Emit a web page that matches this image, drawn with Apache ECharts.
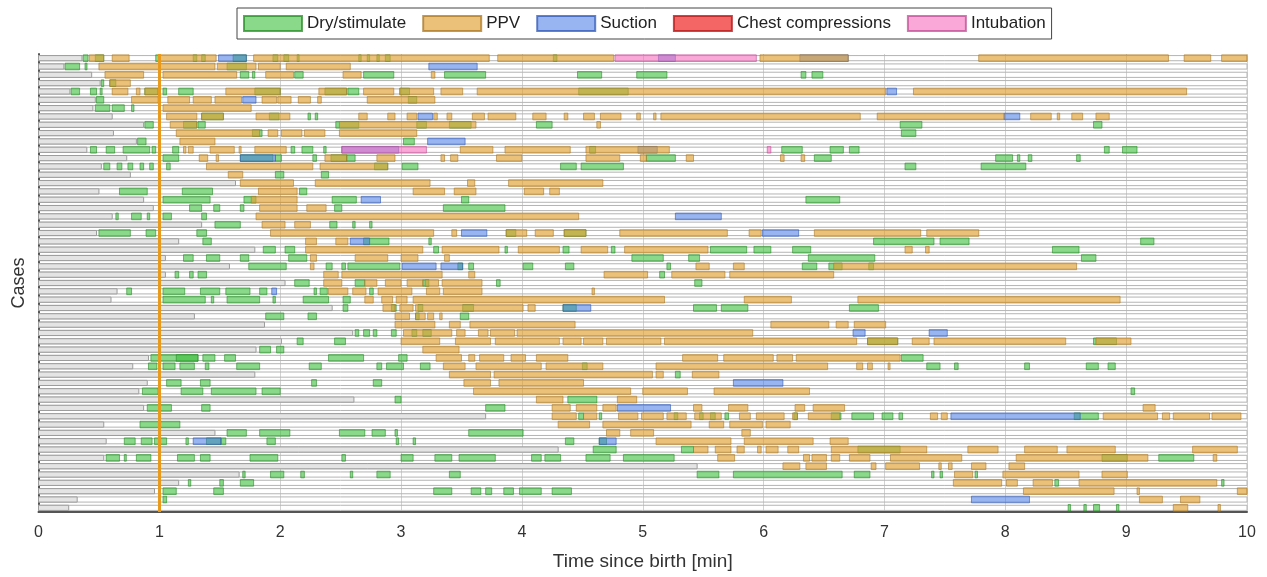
<!DOCTYPE html>
<html>
<head>
<meta charset="utf-8">
<script src="https://cdn.jsdelivr.net/npm/echarts@6/dist/echarts.min.js"></script>
<style>
  html, body { margin: 0; padding: 0; background: #fff; }
  #chart { width: 1267px; height: 577px; }
</style>
</head>
<body>
<div id="chart"></div>
<script>
// Une ligne par cas, de haut en bas
const caseIds = Array.from({ length: 55 }, (_, i) => 'Case ' + (i + 1));

const timeTicks = [0, 1, 2, 3, 4, 5, 6, 7, 8, 9, 10];

const categories = ['Dry/stimulate', 'PPV', 'Suction', 'Chest compressions', 'Intubation'];

// Partie grise de chaque ligne (minutes)
const greyUntil = [
  0.36, 0.21, 0.44, 0.51, 0.26, 0.47, 0.45, 0.61, 0.87, 0.62,
  0.81, 0.40, 0.73, 0.52, 0.76, 1.63, 0.50, 0.87, 0.95, 0.61,
  1.35, 0.48, 1.16, 1.79, 1.05, 1.58, 1.05, 2.04, 0.65, 0.60,
  2.43, 1.29, 1.87, 2.60, 2.01, 1.80, 0.91, 0.78, 1.79, 0.90,
  0.83, 2.61, 0.87, 3.70, 0.54, 1.46, 0.56, 4.30, 0.54, 5.45,
  1.66, 1.16, 0.96, 0.32, 0.25
];

// [ligne, début, fin] en minutes
const dryStimulate = [
  [0, 0.37, 0.41], [0, 0.47, 0.54], [0, 0.97, 1.00], [0, 1.28, 1.31], [0, 1.35, 1.38], [0, 1.61, 1.72],
  [0, 1.94, 1.98], [0, 2.03, 2.07], [0, 2.14, 2.15], [0, 2.65, 2.67], [0, 2.72, 2.74], [0, 2.80, 2.82],
  [0, 2.87, 2.91], [0, 4.26, 4.29],
  [1, 0.22, 0.34], [1, 0.385, 0.40], [1, 1.56, 1.72],
  [2, 1.67, 1.74], [2, 1.77, 1.79], [2, 2.12, 2.19], [2, 2.69, 2.94], [2, 3.36, 3.70], [2, 4.46, 4.66],
  [2, 4.95, 5.20], [2, 6.31, 6.35], [2, 6.40, 6.49],
  [3, 0.52, 0.54], [3, 0.59, 0.64],
  [4, 0.27, 0.34], [4, 0.43, 0.48], [4, 0.51, 0.52], [4, 0.88, 0.99], [4, 1.03, 1.06], [4, 1.16, 1.28],
  [4, 1.79, 2.00], [4, 2.37, 2.55], [4, 2.56, 2.65], [4, 2.99, 3.07], [4, 4.47, 4.88],
  [5, 0.48, 0.54], [5, 3.06, 3.13],
  [6, 0.47, 0.59], [6, 0.61, 0.71], [6, 0.77, 0.79],
  [7, 1.35, 1.53], [7, 1.91, 1.99], [7, 2.23, 2.25], [7, 2.29, 2.31],
  [8, 0.88, 0.95], [8, 1.20, 1.31], [8, 1.32, 1.38], [8, 2.46, 2.65], [8, 3.13, 3.21], [8, 3.40, 3.58],
  [8, 4.12, 4.25], [8, 7.13, 7.31], [8, 8.73, 8.80],
  [9, 1.77, 1.85], [9, 7.14, 7.26],
  [10, 0.82, 0.89], [10, 3.02, 3.11],
  [11, 0.43, 0.48], [11, 0.56, 0.63], [11, 0.70, 0.92], [11, 0.94, 0.97], [11, 1.11, 1.16], [11, 2.09, 2.12],
  [11, 2.18, 2.27], [11, 2.36, 2.38], [11, 4.56, 4.61], [11, 6.15, 6.32], [11, 6.55, 6.66], [11, 6.71, 6.79],
  [11, 8.82, 8.86], [11, 8.97, 9.09],
  [12, 1.03, 1.16], [12, 1.67, 1.94], [12, 1.96, 2.01], [12, 2.27, 2.30], [12, 2.42, 2.55], [12, 2.55, 2.62],
  [12, 5.03, 5.27], [12, 6.42, 6.56], [12, 7.92, 8.06], [12, 8.10, 8.12], [12, 8.19, 8.22], [12, 8.59, 8.62],
  [13, 0.54, 0.59], [13, 0.65, 0.69], [13, 0.74, 0.78], [13, 0.84, 0.87], [13, 0.92, 0.95], [13, 1.06, 1.09],
  [13, 2.78, 2.89], [13, 3.01, 3.14], [13, 4.32, 4.45], [13, 4.49, 4.84], [13, 7.17, 7.26], [13, 7.80, 8.17],
  [14, 1.96, 2.03], [14, 2.34, 2.40],
  [16, 0.67, 0.90], [16, 1.19, 1.44], [16, 2.16, 2.22],
  [17, 1.03, 1.42], [17, 1.70, 1.80], [17, 2.43, 2.63], [17, 3.50, 3.56], [17, 6.35, 6.63],
  [18, 1.25, 1.35], [18, 1.45, 1.50], [18, 1.67, 1.70], [18, 2.45, 2.51], [18, 3.35, 3.86],
  [19, 0.64, 0.66], [19, 0.77, 0.85], [19, 0.90, 0.92], [19, 1.03, 1.10], [19, 1.35, 1.39],
  [20, 1.46, 1.67], [20, 2.41, 2.47], [20, 2.60, 2.62], [20, 2.74, 2.76],
  [21, 0.50, 0.76], [21, 0.89, 0.97], [21, 1.31, 1.39], [21, 3.87, 3.95], [21, 4.35, 4.53],
  [22, 1.36, 1.43], [22, 2.69, 2.90], [22, 3.23, 3.25], [22, 6.91, 7.41], [22, 7.46, 7.70], [22, 9.12, 9.23],
  [23, 1.86, 1.96], [23, 2.04, 2.12], [23, 3.27, 3.31], [23, 3.86, 3.88], [23, 4.34, 4.39], [23, 4.74, 4.77],
  [23, 5.56, 5.86], [23, 5.92, 6.06], [23, 6.24, 6.39], [23, 8.39, 8.61],
  [24, 1.20, 1.28], [24, 1.39, 1.50], [24, 1.67, 1.74], [24, 2.07, 2.22], [24, 4.91, 5.17], [24, 5.38, 5.47],
  [24, 6.37, 6.92], [24, 8.63, 8.75],
  [25, 1.74, 2.05], [25, 2.38, 2.43], [25, 2.51, 2.54], [25, 2.56, 2.99], [25, 3.47, 3.51], [25, 3.56, 3.60],
  [25, 4.01, 4.09], [25, 4.36, 4.43], [25, 5.20, 5.23], [25, 6.32, 6.44], [25, 6.54, 6.65], [25, 6.87, 6.91],
  [26, 1.13, 1.16], [26, 1.25, 1.28], [26, 1.32, 1.39], [26, 5.14, 5.18],
  [27, 2.12, 2.24], [27, 2.62, 2.70], [27, 3.18, 3.23], [27, 3.79, 3.82], [27, 5.43, 5.49],
  [28, 0.73, 0.77], [28, 1.03, 1.21], [28, 1.34, 1.50], [28, 1.55, 1.75], [28, 1.83, 1.89], [28, 2.28, 2.30],
  [28, 2.33, 2.39], [28, 2.74, 2.77],
  [29, 1.03, 1.38], [29, 1.43, 1.45], [29, 1.56, 1.83], [29, 1.94, 1.96], [29, 2.19, 2.40], [29, 2.52, 2.58],
  [30, 2.52, 2.56], [30, 2.92, 2.96], [30, 3.14, 3.18], [30, 3.51, 3.60], [30, 4.34, 4.45], [30, 5.42, 5.61],
  [30, 5.65, 5.87], [30, 6.71, 6.95],
  [31, 1.88, 2.03], [31, 2.23, 2.30], [31, 3.12, 3.15], [31, 3.49, 3.56],
  [33, 2.62, 2.65], [33, 2.69, 2.74], [33, 2.77, 2.80], [33, 2.92, 2.96], [33, 3.09, 3.13], [33, 3.18, 3.25],
  [34, 2.14, 2.19], [34, 2.45, 2.54], [34, 6.86, 7.11], [34, 8.73, 8.92],
  [35, 1.83, 1.92], [35, 1.97, 2.03],
  [36, 0.93, 1.32], [36, 1.14, 1.32], [36, 1.36, 1.46], [36, 1.54, 1.63], [36, 2.40, 2.69], [36, 2.98, 3.05],
  [36, 7.14, 7.32],
  [37, 0.91, 0.98], [37, 1.03, 1.13], [37, 1.17, 1.29], [37, 1.38, 1.41], [37, 1.64, 1.83], [37, 2.24, 2.34],
  [37, 2.80, 2.84], [37, 2.88, 3.02], [37, 3.16, 3.24], [37, 4.50, 4.54], [37, 7.35, 7.46], [37, 7.58, 7.61],
  [37, 8.16, 8.20], [37, 8.67, 8.77], [37, 8.85, 8.91],
  [38, 5.27, 5.31],
  [39, 1.06, 1.18], [39, 1.34, 1.42], [39, 2.26, 2.30], [39, 2.77, 2.84],
  [40, 0.86, 0.99], [40, 1.18, 1.36], [40, 1.43, 1.80], [40, 1.85, 2.00], [40, 9.04, 9.07],
  [41, 2.95, 3.00], [41, 4.38, 4.62],
  [42, 0.90, 1.10], [42, 1.35, 1.42], [42, 3.70, 3.86],
  [43, 4.47, 4.51], [43, 4.64, 4.66], [43, 5.26, 5.29], [43, 5.47, 5.50], [43, 5.56, 5.60], [43, 5.68, 5.71],
  [43, 6.25, 6.28], [43, 6.56, 6.64], [43, 6.73, 6.91], [43, 6.98, 7.07], [43, 7.12, 7.15], [43, 8.57, 8.77],
  [44, 0.84, 1.17],
  [45, 1.56, 1.72], [45, 1.83, 2.08], [45, 2.49, 2.70], [45, 2.76, 2.87], [45, 2.95, 2.97], [45, 3.56, 4.01],
  [46, 0.71, 0.80], [46, 0.85, 0.94], [46, 0.96, 1.06], [46, 1.22, 1.24], [46, 1.39, 1.51], [46, 1.51, 1.55],
  [46, 1.89, 1.96], [46, 2.96, 2.98], [46, 3.10, 3.12], [46, 4.36, 4.43], [46, 4.64, 4.70],
  [47, 4.59, 4.78], [47, 5.32, 5.42], [47, 6.78, 7.13],
  [48, 0.56, 0.67], [48, 0.71, 0.72], [48, 0.81, 0.93], [48, 1.15, 1.29], [48, 1.34, 1.42], [48, 1.75, 1.98],
  [48, 2.51, 2.54], [48, 3.00, 3.10], [48, 3.28, 3.42], [48, 3.48, 3.78], [48, 4.08, 4.16], [48, 4.19, 4.32],
  [48, 4.53, 4.73], [48, 4.84, 5.26], [48, 8.80, 9.01], [48, 9.27, 9.56],
  [50, 1.69, 1.71], [50, 1.92, 2.03], [50, 2.17, 2.20], [50, 2.58, 2.60], [50, 2.80, 2.91], [50, 3.40, 3.49],
  [50, 5.45, 5.63], [50, 5.75, 6.65], [50, 6.75, 6.88], [50, 7.39, 7.41], [50, 7.46, 7.48], [50, 7.75, 7.77],
  [51, 1.24, 1.26], [51, 1.50, 1.53], [51, 1.67, 1.78], [51, 8.41, 8.44], [51, 9.79, 9.81],
  [52, 1.03, 1.14], [52, 1.45, 1.53], [52, 3.27, 3.42], [52, 3.58, 3.66], [52, 3.70, 3.75], [52, 3.85, 3.93],
  [52, 3.98, 4.16], [52, 4.25, 4.41],
  [53, 1.03, 1.06],
  [54, 8.52, 8.54], [54, 8.65, 8.67], [54, 8.73, 8.78], [54, 8.92, 8.94]
];

const ppv = [
  [0, 0.42, 0.54], [0, 0.61, 0.75], [0, 1.00, 1.47], [0, 1.78, 3.73], [0, 3.80, 4.76], [0, 5.97, 6.70],
  [0, 7.78, 9.35], [0, 9.48, 9.70], [0, 9.79, 10.0],
  [1, 0.50, 1.46], [1, 1.48, 1.80], [1, 1.82, 2.00], [1, 2.05, 2.58],
  [2, 0.55, 0.87], [2, 1.03, 1.64], [2, 1.88, 2.11], [2, 2.52, 2.67], [2, 3.25, 3.28],
  [3, 0.59, 0.76],
  [4, 0.61, 0.74], [4, 0.81, 0.84], [4, 0.88, 0.99], [4, 1.55, 2.00], [4, 2.32, 2.55], [4, 2.69, 2.94],
  [4, 2.99, 3.27], [4, 3.33, 3.51], [4, 3.63, 7.01], [4, 7.24, 9.50],
  [5, 0.77, 0.99], [5, 1.07, 1.25], [5, 1.28, 1.43], [5, 1.46, 1.68], [5, 1.85, 1.97], [5, 1.98, 2.09],
  [5, 2.15, 2.25], [5, 2.31, 2.34], [5, 2.72, 3.28],
  [6, 1.03, 1.76],
  [7, 1.06, 1.31], [7, 1.35, 1.53], [7, 1.80, 2.08], [7, 2.65, 2.72], [7, 2.89, 2.95], [7, 3.05, 3.13],
  [7, 3.27, 3.30], [7, 3.38, 3.42], [7, 3.59, 3.69], [7, 3.72, 3.95], [7, 4.09, 4.20], [7, 4.35, 4.38],
  [7, 4.51, 4.60], [7, 4.65, 4.82], [7, 4.95, 4.98], [7, 5.09, 5.11], [7, 5.15, 6.80], [7, 6.94, 7.99],
  [7, 8.21, 8.38], [7, 8.43, 8.45], [7, 8.55, 8.64], [7, 8.75, 8.86],
  [8, 1.09, 1.31], [8, 2.49, 3.62], [8, 4.62, 4.65],
  [9, 1.14, 1.83], [9, 1.90, 1.98], [9, 2.01, 2.18], [9, 2.20, 2.37], [9, 2.49, 3.13],
  [10, 1.17, 1.46],
  [11, 1.20, 1.22], [11, 1.24, 1.28], [11, 1.42, 1.62], [11, 1.66, 1.67], [11, 1.79, 2.05], [11, 3.49, 3.76],
  [11, 3.86, 4.40], [11, 4.53, 5.22],
  [12, 1.33, 1.40], [12, 1.47, 1.49], [12, 2.37, 2.55], [12, 2.80, 2.95], [12, 3.33, 3.36], [12, 3.41, 3.47],
  [12, 3.79, 4.00], [12, 4.53, 4.81], [12, 4.98, 5.03], [12, 5.36, 5.42], [12, 6.14, 6.17], [12, 6.31, 6.34],
  [13, 1.39, 2.27], [13, 2.33, 2.89],
  [14, 1.57, 1.69],
  [15, 1.67, 2.11], [15, 2.29, 3.24], [15, 3.55, 3.61], [15, 3.89, 4.67],
  [16, 1.82, 2.14], [16, 3.10, 3.36], [16, 3.44, 3.62], [16, 4.02, 4.18], [16, 4.23, 4.31],
  [17, 1.76, 2.14],
  [18, 1.83, 2.14], [18, 2.22, 2.38],
  [19, 1.80, 4.47],
  [20, 1.85, 2.04], [20, 2.12, 2.25],
  [21, 1.92, 3.27], [21, 3.42, 3.46], [21, 3.87, 4.04], [21, 4.11, 4.26], [21, 4.35, 4.53], [21, 4.81, 5.70],
  [21, 5.88, 5.98], [21, 6.42, 7.30], [21, 7.35, 7.78],
  [22, 2.21, 2.30], [22, 2.46, 2.56],
  [23, 2.21, 3.18], [23, 3.34, 3.81], [23, 3.97, 4.31], [23, 4.49, 4.71], [23, 4.85, 5.54], [23, 7.17, 7.23],
  [23, 7.34, 7.37],
  [24, 2.25, 2.30], [24, 2.62, 2.89], [24, 3.00, 3.14], [24, 3.36, 3.40],
  [25, 2.25, 2.28], [25, 5.44, 5.55], [25, 5.75, 5.84], [25, 6.58, 8.59],
  [26, 2.36, 2.48], [26, 2.51, 3.34], [26, 3.56, 3.61], [26, 4.68, 5.04], [26, 5.24, 5.68], [26, 5.72, 6.58],
  [27, 2.36, 2.51], [27, 2.70, 2.80], [27, 2.87, 3.00], [27, 3.05, 3.18], [27, 3.20, 3.31], [27, 3.34, 3.67],
  [28, 2.40, 2.56], [28, 2.60, 2.71], [28, 2.81, 3.09], [28, 3.21, 3.32], [28, 3.35, 3.67], [28, 4.58, 4.60],
  [29, 2.70, 2.77], [29, 2.84, 2.93], [29, 2.96, 3.05], [29, 3.10, 5.18], [29, 5.84, 6.23], [29, 6.78, 8.95],
  [30, 2.85, 2.95], [30, 2.99, 3.10], [30, 3.12, 4.01], [30, 4.05, 4.11],
  [31, 2.95, 3.07], [31, 3.12, 3.20], [31, 3.22, 3.27], [31, 3.32, 3.34],
  [32, 2.95, 3.28], [32, 3.40, 3.49], [32, 3.57, 4.44], [32, 6.06, 6.54], [32, 6.60, 6.70], [32, 6.75, 7.01],
  [33, 3.02, 3.42], [33, 3.46, 3.53], [33, 3.64, 3.72], [33, 3.74, 3.94], [33, 3.96, 5.91],
  [34, 3.00, 3.32], [34, 3.45, 3.74], [34, 3.78, 4.31], [34, 4.34, 4.49], [34, 4.51, 4.67], [34, 4.70, 5.15],
  [34, 5.18, 6.77], [34, 6.86, 7.11], [34, 7.23, 7.37], [34, 7.41, 8.50], [34, 8.75, 9.04],
  [35, 3.18, 3.48],
  [36, 3.29, 3.50], [36, 3.56, 3.61], [36, 3.65, 3.85], [36, 3.91, 4.03], [36, 4.12, 4.38], [36, 5.33, 5.62],
  [36, 5.67, 6.08], [36, 6.11, 6.24], [36, 6.27, 7.13],
  [37, 3.35, 3.53], [37, 3.62, 4.16], [37, 4.20, 4.67], [37, 5.11, 6.53], [37, 6.77, 6.82], [37, 6.86, 6.90],
  [37, 7.03, 7.04],
  [38, 3.40, 3.74], [38, 3.77, 5.08], [38, 5.11, 5.17], [38, 5.41, 5.63],
  [39, 3.52, 3.74], [39, 3.81, 4.51],
  [40, 3.60, 4.90], [40, 5.00, 5.37], [40, 5.59, 6.38],
  [41, 4.12, 4.34], [41, 4.79, 4.95],
  [42, 4.25, 4.40], [42, 4.45, 4.62], [42, 4.67, 4.78], [42, 5.42, 5.49], [42, 5.71, 5.87], [42, 6.26, 6.34],
  [42, 6.41, 6.67], [42, 9.14, 9.24],
  [43, 4.25, 4.45], [43, 4.51, 4.62], [43, 4.80, 4.96], [43, 4.99, 5.17], [43, 5.20, 5.36], [43, 5.43, 5.65],
  [43, 5.80, 5.89], [43, 5.94, 6.17], [43, 6.24, 6.28], [43, 6.37, 6.63], [43, 7.38, 7.44], [43, 7.47, 7.52],
  [43, 8.81, 9.26], [43, 9.30, 9.36], [43, 9.39, 9.69], [43, 9.71, 9.95],
  [44, 4.30, 4.56], [44, 4.67, 5.40], [44, 5.55, 5.67], [44, 5.72, 5.99], [44, 6.02, 6.22],
  [45, 4.70, 4.81], [45, 4.90, 5.09], [45, 5.82, 5.89],
  [46, 5.11, 5.73], [46, 5.84, 6.41], [46, 6.55, 6.70],
  [47, 5.42, 5.54], [47, 5.60, 5.73], [47, 5.78, 5.84], [47, 5.95, 5.98], [47, 6.02, 6.12], [47, 6.20, 6.29],
  [47, 6.56, 7.35], [47, 7.69, 7.94], [47, 8.16, 8.43], [47, 8.51, 8.91], [47, 9.55, 9.92],
  [48, 5.62, 5.76], [48, 6.33, 6.38], [48, 6.40, 6.52], [48, 6.56, 6.63], [48, 6.71, 6.88], [48, 7.05, 7.64],
  [48, 8.09, 9.18], [48, 9.72, 9.75],
  [49, 6.16, 6.30], [49, 6.35, 6.52], [49, 6.89, 6.93], [49, 7.01, 7.29], [49, 7.45, 7.47], [49, 7.53, 7.56],
  [49, 7.72, 7.84], [49, 8.03, 8.16],
  [50, 7.58, 7.73], [50, 7.98, 8.61], [50, 8.80, 9.01],
  [51, 7.57, 7.97], [51, 8.01, 8.10], [51, 8.23, 8.39], [51, 8.61, 9.75],
  [52, 8.15, 8.90], [52, 9.09, 9.11], [52, 9.92, 10.0],
  [53, 9.11, 9.30], [53, 9.45, 9.61],
  [54, 9.39, 9.51], [54, 9.76, 9.78]
];

const suction = [
  [0, 1.49, 1.72], [0, 5.13, 5.27], [0, 6.30, 6.70],
  [1, 3.23, 3.63], [4, 7.02, 7.10], [5, 1.69, 1.80], [7, 3.14, 3.26], [7, 7.99, 8.12],
  [10, 3.22, 3.53], [11, 2.51, 2.98], [11, 4.96, 5.12], [12, 1.67, 1.96], [17, 2.67, 2.83],
  [19, 5.27, 5.65], [21, 3.50, 3.71], [21, 5.99, 6.29], [22, 2.58, 2.74], [25, 3.01, 3.29],
  [25, 3.33, 3.51], [28, 1.93, 1.97], [30, 4.34, 4.57], [33, 6.74, 6.84], [33, 7.37, 7.52],
  [39, 5.75, 6.16], [42, 4.79, 5.23], [43, 7.55, 8.62], [46, 1.28, 1.51], [46, 4.64, 4.78],
  [53, 7.72, 8.20]
];

const chestCompressions = [];

const intubation = [
  [0, 4.77, 5.94], [11, 2.51, 3.21], [11, 6.03, 6.06]
];

// Couleurs semi-transparentes pour que les chevauchements se mélangent
const palette = {
  'Dry/stimulate': ['rgba(60,190,60,0.6)', 'rgba(40,140,40,0.75)'],
  'PPV': ['rgba(225,160,50,0.65)', 'rgba(170,120,40,0.75)'],
  'Suction': ['rgba(70,120,230,0.55)', 'rgba(50,90,180,0.75)'],
  'Chest compressions': ['rgba(240,50,50,0.75)', 'rgba(180,30,30,0.8)'],
  'Intubation': ['rgba(245,110,190,0.6)', 'rgba(190,80,150,0.75)']
};

/**
 * Dessine un intervalle [début, fin] sur la ligne d'un cas
 */
function renderSegment(params, api) {
  const row = api.value(0);
  const p0 = api.coord([api.value(1), row]);
  const p1 = api.coord([api.value(2), row]);
  const h = api.size([0, 1])[1] * 0.8;
  const shape = echarts.graphic.clipRectByRect(
    { x: p0[0], y: p0[1] - h / 2, width: Math.max(p1[0] - p0[0], 2), height: h },
    { x: params.coordSys.x, y: params.coordSys.y, width: params.coordSys.width, height: params.coordSys.height }
  );
  return shape && { type: 'rect', shape: shape, style: api.style() };
}

/**
 * Fond de ligne : barre blanche sur toute la durée + partie grise au début
 */
function renderRowBackground(params, api) {
  const row = api.value(0);
  const left = api.coord([0, row]);
  const right = api.coord([10, row]);
  const greyEnd = api.coord([api.value(1), row]);
  const h = api.size([0, 1])[1] * 0.62;
  return {
    type: 'group',
    children: [
      {
        type: 'rect',
        shape: { x: left[0], y: left[1] - h / 2, width: right[0] - left[0], height: h },
        style: { fill: 'rgba(255,255,255,0)', stroke: '#b4b4b4', lineWidth: 1 }
      },
      {
        type: 'rect',
        shape: { x: left[0], y: left[1] - h / 2, width: greyEnd[0] - left[0], height: h },
        style: { fill: '#e4e4e4', stroke: '#9c9c9c', lineWidth: 1 }
      }
    ]
  };
}

function segmentSeries(name, data, z) {
  return {
    type: 'custom',
    name: name,
    renderItem: renderSegment,
    encode: { x: [1, 2], y: 0 },
    data: data,
    z: z,
    itemStyle: { color: palette[name][0], borderColor: palette[name][1], borderWidth: 0.8 }
  };
}

const dom = document.getElementById('chart');
const myChart = echarts.init(dom);

const intubationSeries = segmentSeries('Intubation', intubation, 6);
// Trait vertical à 1 minute
intubationSeries.markLine = {
  silent: true,
  symbol: 'none',
  label: { show: false },
  lineStyle: { color: '#e89a1c', width: 3, type: 'solid' },
  data: [{ xAxis: 1 }]
};

myChart.setOption({
  animation: false,
  textStyle: { fontFamily: 'Liberation Sans, Arial, sans-serif' },
  legend: {
    data: categories,
    left: 237,
    top: 8,
    icon: 'rect',
    itemWidth: 58,
    itemHeight: 15,
    itemGap: 16,
    padding: [7, 6],
    borderColor: '#444',
    borderWidth: 1,
    textStyle: { fontSize: 17, color: '#222' }
  },
  grid: { left: 38.5, right: 20, top: 54, bottom: 65 },
  xAxis: {
    type: 'value',
    min: 0,
    max: 10,
    interval: 1,
    name: 'Time since birth [min]',
    nameLocation: 'middle',
    nameGap: 40,
    nameTextStyle: { fontSize: 19, color: '#333' },
    axisLine: { show: true, lineStyle: { color: '#555', width: 2 } },
    axisTick: { show: false },
    axisLabel: { fontSize: 16, color: '#333', margin: 13, formatter: v => String(timeTicks[v]) },
    splitLine: { show: true, lineStyle: { color: '#d2d2d2', width: 1 } }
  },
  yAxis: {
    type: 'category',
    data: caseIds,
    inverse: true,
    name: 'Cases',
    nameLocation: 'middle',
    nameRotate: 90,
    nameGap: 10,
    nameTextStyle: { fontSize: 18, color: '#333' },
    axisLine: { show: true, lineStyle: { color: '#555', width: 2 } },
    axisTick: { show: false },
    axisLabel: { show: false },
    splitLine: { show: false }
  },
  series: [
    {
      type: 'custom',
      name: 'rows',
      silent: true,
      renderItem: renderRowBackground,
      encode: { x: 1, y: 0 },
      data: greyUntil.map((g, i) => [i, g]),
      z: 1
    },
    // l'aspiration passe sous la ventilation : le chevauchement devient brun comme sur l'original
    segmentSeries('Dry/stimulate', dryStimulate, 2),
    segmentSeries('PPV', ppv, 4),
    segmentSeries('Suction', suction, 3),
    segmentSeries('Chest compressions', chestCompressions, 5),
    intubationSeries
  ]
});

window.addEventListener('resize', function () {
  myChart.resize();
});
</script>
</body>
</html>
